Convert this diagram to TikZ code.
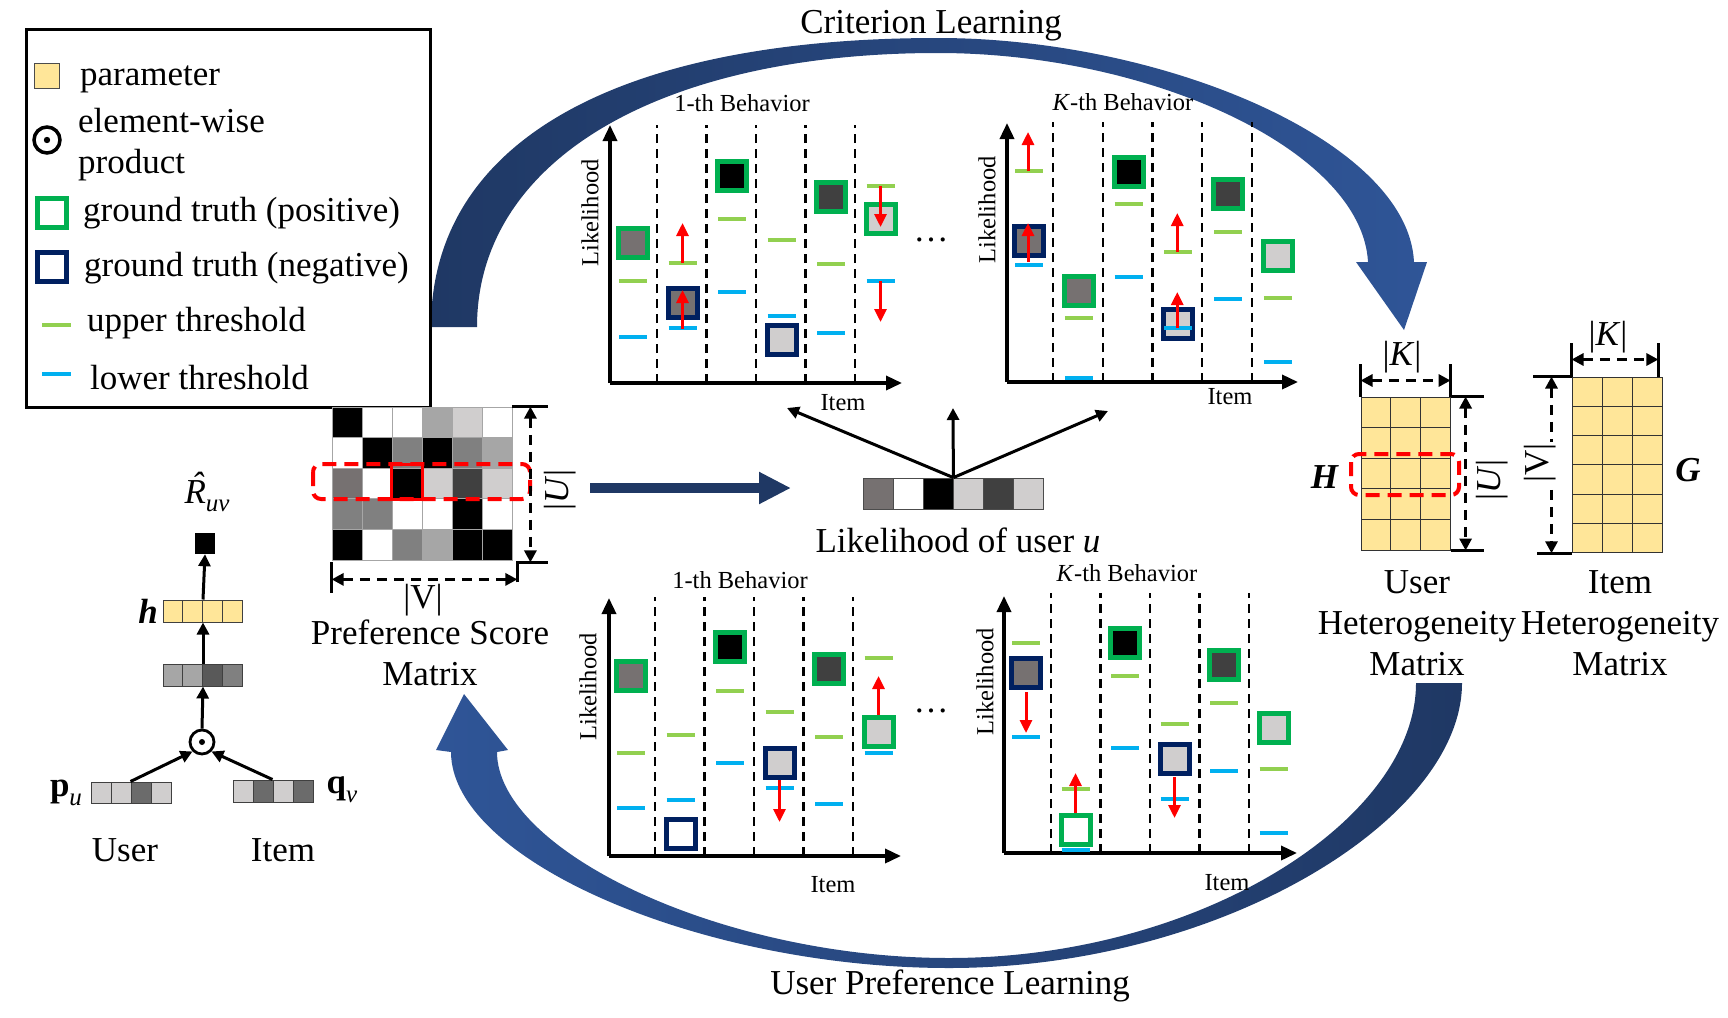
\documentclass[tikz,border=0pt]{standalone}
\usepackage{amsmath, amssymb}
\usepackage{fontspec}
\setmainfont{Liberation Serif}
\usetikzlibrary{arrows.meta, positioning, calc}
\usepackage{xcolor}

\definecolor{paramY}{HTML}{FFE699}
\definecolor{gtG}{HTML}{00B050}
\definecolor{gtN}{HTML}{002060}
\definecolor{upG}{HTML}{92D050}
\definecolor{lowB}{HTML}{00B0F0}
\definecolor{navyD}{HTML}{1F3864}
\definecolor{navyL}{HTML}{2F5597}
\definecolor{cK}{HTML}{000000}
\definecolor{cW}{HTML}{FFFFFF}
\definecolor{cA}{HTML}{A6A6A6}
\definecolor{cL}{HTML}{D0CECE}
\definecolor{cM}{HTML}{808080}
\definecolor{cD}{HTML}{404040}
\definecolor{cG}{HTML}{767171}
\definecolor{cS}{HTML}{595959}
\definecolor{cP}{HTML}{6B6B6B}

\begin{document}
\begin{tikzpicture}[
  x=1pt, y=-1pt,
  every node/.style={inner sep=0pt},
  big/.style    ={font=\fontsize{35}{41}\selectfont},
  small/.style  ={font=\fontsize{24.5}{28}\selectfont},
  pcell/.style  ={rectangle, draw=gray!70, line width=0.8pt,
                  minimum width=30pt, minimum height=30.6pt},
  vcell/.style  ={rectangle, draw=black!75, line width=1pt,
                  minimum width=19.75pt, minimum height=22pt},
  ycell/.style  ={rectangle, draw=black!80, line width=1pt, fill=paramY},
  gtbox/.style  ={rectangle, line width=5pt, minimum size=29pt},
  thr/.style    ={line width=4pt},
  sep/.style    ={line width=2.2pt, dash pattern=on 9pt off 6pt},
  axis/.style   ={-{Triangle[length=16pt,width=14pt]}, line width=3.5pt},
  redarr/.style ={-{Triangle[length=13pt,width=12pt]}, red, line width=3pt},
  arr/.style    ={-{Triangle[length=12pt,width=12pt]}, line width=3pt},
  dimarr/.style ={{Triangle[length=12pt,width=12pt]}-{Triangle[length=12pt,width=12pt]},
                  line width=3pt, dash pattern=on 10pt off 7pt},
  tick/.style   ={line width=3pt},
  seldash/.style={red, line width=4pt, dash pattern=on 14pt off 8pt, rounded corners=8pt},
  bigarr/.style ={-{Triangle[length=32pt,width=30pt]}, navyD, line width=10pt},
]
\useasboundingbox (0,0) rectangle (1728,1017);

% Learning loops
\shade[left color=navyD, right color=navyL]
  (431,327) .. controls (431,140) and (620,38) .. (938,38)
  .. controls (1160,38) and (1408,140) .. (1414,262)
  -- (1427,262) -- (1404,330) -- (1356,262) -- (1368,262)
  .. controls (1362,150) and (1150,53) .. (938,53)
  .. controls (660,53) and (477,160) .. (477,327) -- cycle;
\shade[left color=navyL, right color=navyD]
  (1462,683) .. controls (1462,820) and (1220,968) .. (949,968)
  .. controls (700,968) and (451,860) .. (451,752)
  -- (436,750) -- (464,694) -- (508,750) -- (497,752)
  .. controls (497,850) and (720,958) .. (949,958)
  .. controls (1200,958) and (1416,820) .. (1416,683) -- cycle;
\node[big] (crit) at (931,26) {Criterion Learning};
\node[big] (upl)  at (950,986) {User Preference Learning};

% Legend
\node[draw, line width=3pt, minimum width=404pt, minimum height=378pt] (legend) at (228,218) {};
\node[rectangle, draw=black!70, line width=0.8pt, fill=paramY, minimum size=25pt] (lgpar) at (46.5,75.5) {};
\node[big, anchor=west] (lgpartxt) at (80,79) {parameter};
\node[circle, draw, line width=3.5pt, minimum size=26pt] (lgdot) at (47,140) {};
\fill (lgdot) circle (3.2);
\node[big, anchor=west, align=left] (lgdottxt) at (78,145) {element-wise\\product};
\node[gtbox, draw=gtG] (lgpos) at (52,213) {};
\node[big, anchor=west] (lgpostxt) at (83,213) {ground truth (positive)};
\node[gtbox, draw=gtN] (lgneg) at (52,267) {};
\node[big, anchor=west] (lgnegtxt) at (84,268) {ground truth (negative)};
\draw[thr, upG] (42,325) -- (71,325);
\node[big, anchor=west] (lguptxt) at (87,323) {upper threshold};
\draw[thr, lowB] (42,374) -- (71,374);
\node[big, anchor=west] (lglowtxt) at (90,378) {lower threshold};

% Base model
\node[rectangle, fill=black, minimum width=20pt, minimum height=21pt] (rout) at (205,543.5) {};
\node[big] (rlab) at (207,492) {\textit{R\llap{\raisebox{0.2em}{ˆ}\kern0.08em}}\raisebox{-0.25em}{\fontsize{25}{28}\selectfont\textit{uv}}};
\foreach \col in {1,...,4}
  \node[vcell, fill=paramY] (hv\col) at ({163+19.75*(\col-0.5)},611) {};
\node[big, anchor=east] (hvlab) at (158,611) {\textbf{\textit{h}}};
\foreach \fc [count=\col] in {cA,cA,cS,cM}
  \node[vcell, fill=\fc] (gv\col) at ({163+19.75*(\col-0.5)},675) {};
\node[circle, draw, line width=2.8pt, minimum size=24pt] (odot) at (202,742) {};
\fill (odot) circle (3);
\foreach \fc [count=\col] in {cL,cL,cP,cL}
  \node[vcell, minimum width=20pt, minimum height=21pt, fill=\fc] (pu\col) at ({91+20*(\col-0.5)},792.5) {};
\foreach \fc [count=\col] in {cL,cP,cL,cP}
  \node[vcell, minimum width=20pt, minimum height=22pt, fill=\fc] (qv\col) at ({233+20*(\col-0.5)},791) {};
\node[big] (pulab) at (66,793) {\textbf{p}\raisebox{-0.25em}{\fontsize{25}{28}\selectfont\textit{u}}};
\node[big] (qvlab) at (342,790) {\textbf{q}\raisebox{-0.25em}{\fontsize{25}{28}\selectfont\textit{v}}};
\node[big] (ulab) at (125,850) {User};
\node[big] (ilab) at (283,850) {Item};
\draw[arr] (pu3.north west) -- (odot.south west);
\draw[arr] (qv3.north west) -- (odot.south east);
\draw[arr] (odot.north) -- (gv2.south east);
\draw[arr] (gv2.north east) -- (hv2.south east);
\draw[arr] (hv2.north east) -- (rout.south);

% Preference score matrix
\foreach \rowc [count=\rr] in {{cK,cW,cW,cA,cL,cW},{cW,cK,cM,cK,cM,cA},{cG,cW,cK,cL,cD,cL},{cM,cM,cW,cW,cK,cW},{cK,cW,cM,cA,cK,cK}}
  \foreach \fc [count=\col] in \rowc
    \node[pcell, fill=\fc] (pm-\rr-\col) at ({317+30*\col},{407+30.6*(\rr-0.5)}) {};
\coordinate (seltop) at (0,464);
\draw[seldash] (313,464) rectangle (530,499);
\draw[red, line width=3pt] (pm-3-3.west |- seltop) rectangle (pm-3-3.south east);
\draw[tick] (pm-1-6.north east) -- ++(36,0);
\draw[tick] ($(pm-5-6.south east)+(5,22)$) -- ++(0,-20) -- ++(31,0);
\draw[tick] ($(pm-5-1.south west)+(0,2)$) -- ++(0,31);
\draw[dimarr] ($(pm-1-6.north east)+(18,0)$) -- ($(pm-5-6.south east)+(18,2)$);
\draw[dimarr] ($(pm-5-1.south west)+(0,19)$) -- ($(pm-5-6.south east)+(5,19)$);
\node[big, rotate=90] (pmUlab) at (560,490) {|\textit{U}|};
\node[big] (pmVlab) at (423,600) {|V|};
\node[big, align=center] (pmlab) at (430,653) {Preference Score\\Matrix};

% To likelihood
\coordinate (bigA) at (590,488);
\coordinate (bigB) at (791,488);
\draw[bigarr] (bigA) -- (bigB);
\foreach \fc [count=\col] in {cG,cW,cK,cL,cD,cL}
  \node[pcell, draw=black!70, minimum height=31pt, fill=\fc] (lv\col) at ({848+30*\col},493.5) {};
\node[big] (lvlab) at (958,540) {Likelihood of user \textit{u}};
\coordinate (lvL) at (787,408);
\coordinate (lvM) at (953,408);
\coordinate (lvR) at (1108,411);
\draw[arr] (lv3.north east) -- (lvL);
\draw[arr] (lv3.north east) -- (lvM);
\draw[arr] (lv3.north east) -- (lvR);

% Top-left: 1-th behavior
\begin{scope}[shift={(610,383)}]
  \coordinate (tlO) at (0,0);
  \draw[axis] (tlO) -- (0,-258);
  \draw[axis] (tlO) -- (292,0);
  \foreach \k in {0,...,4} \draw[sep] ({47+49.5*\k},0) -- ({47+49.5*\k},-258);
  \foreach \col/\yy/\bc/\fc in {1/-140/gtG/cG, 2/-80/gtN/cG, 3/-207/gtG/cK, 4/-43/gtN/cL, 5/-186/gtG/cD, 6/-164/gtG/cL}
    \node[gtbox, draw=\bc, fill=\fc] (tl-sq\col) at ({23+49.5*(\col-1)},\yy) {};
  \foreach \col/\up/\lo in {1/-102/-46, 2/-120/-55, 3/-164/-91, 4/-143/-67, 5/-119/-50, 6/-197/-102} {
    \draw[thr, upG]  ({9+49.5*(\col-1)},\up) -- ++(28,0);
    \draw[thr, lowB] ({9+49.5*(\col-1)},\lo) -- ++(28,0);
  }
  \foreach \col/\ya/\yb in {2/-120/-160, 2/-54/-93, 6/-197/-156, 6/-102/-61}
    \draw[redarr] ({23+49.5*(\col-1)},\ya) -- ({23+49.5*(\col-1)},\yb);
  \node[small] (tl-title) at (132,-280) {1-th Behavior};
  \node[small, rotate=90] (tl-ylab) at (-20,-170) {Likelihood};
  \node[small] (tl-xlab) at (233,20) {Item};
\end{scope}
\node[big] (dotsT) at (931,240) {…};

% Top-right: K-th behavior
\begin{scope}[shift={(1007,382)}]
  \coordinate (trO) at (0,0);
  \draw[axis] (trO) -- (0,-259);
  \draw[axis] (trO) -- (291,0);
  \foreach \k in {0,...,4} \draw[sep] ({46+49.75*\k},0) -- ({46+49.75*\k},-260);
  \foreach \col/\yy/\bc/\fc in {1/-141/gtN/cG, 2/-91/gtG/cG, 3/-210/gtG/cK, 4/-58/gtN/cL, 5/-188/gtG/cD, 6/-126/gtG/cL}
    \node[gtbox, draw=\bc, fill=\fc] (tr-sq\col) at ({22+49.75*(\col-1)},\yy) {};
  \foreach \col/\up/\lo in {1/-211/-117, 2/-64/-4, 3/-178/-105, 4/-130/-54, 5/-150/-83, 6/-84/-20} {
    \draw[thr, upG]  ({8+49.75*(\col-1)},\up) -- ++(28,0);
    \draw[thr, lowB] ({8+49.75*(\col-1)},\lo) -- ++(28,0);
  }
  \foreach \col/\ya/\yb in {1/-211/-250, 1/-120/-159, 4/-130/-169, 4/-54/-90}
    \draw[redarr] ({21+49.75*(\col-1)},\ya) -- ({21+49.75*(\col-1)},\yb);
  \node[small] (tr-title) at (116,-280) {\textit{K}-th Behavior};
  \node[small, rotate=90] (tr-ylab) at (-20,-172) {Likelihood};
  \node[small] (tr-xlab) at (223,15) {Item};
\end{scope}

% Bottom-left: 1-th behavior
\begin{scope}[shift={(609,856)}]
  \coordinate (blO) at (0,0);
  \draw[axis] (blO) -- (0,-258);
  \draw[axis] (blO) -- (292,0);
  \foreach \k in {0,...,4} \draw[sep] ({46+49.5*\k},0) -- ({46+49.5*\k},-259);
  \foreach \col/\yy/\bc/\fc in {1/-180/gtG/cG, 2/-22/gtN/cW, 3/-209/gtG/cK, 4/-93/gtN/cL, 5/-187/gtG/cD, 6/-124/gtG/cL}
    \node[gtbox, draw=\bc, fill=\fc] (bl-sq\col) at ({22+49.5*(\col-1)},\yy) {};
  \foreach \col/\up/\lo in {1/-103/-48, 2/-121/-56, 3/-165/-93, 4/-144/-68, 5/-119/-52, 6/-198/-103} {
    \draw[thr, upG]  ({8+49.5*(\col-1)},\up) -- ++(28,0);
    \draw[thr, lowB] ({8+49.5*(\col-1)},\lo) -- ++(28,0);
  }
  \foreach \col/\ya/\yb in {4/-76/-34, 6/-141/-180}
    \draw[redarr] ({22+49.5*(\col-1)},\ya) -- ({22+49.5*(\col-1)},\yb);
  \node[small] (bl-title) at (131,-276) {1-th Behavior};
  \node[small, rotate=90] (bl-ylab) at (-21,-169) {Likelihood};
  \node[small] (bl-xlab) at (224,29) {Item};
\end{scope}
\node[big] (dotsB) at (931,711) {…};

% Bottom-right: K-th behavior
\begin{scope}[shift={(1004,853)}]
  \coordinate (brO) at (0,0);
  \draw[axis] (brO) -- (0,-257);
  \draw[axis] (brO) -- (293,0);
  \foreach \k in {0,...,4} \draw[sep] ({47+49.5*\k},0) -- ({47+49.5*\k},-260);
  \foreach \col/\yy/\bc/\fc in {1/-180/gtN/cG, 2/-23/gtG/cW, 3/-210/gtG/cK, 4/-94/gtN/cL, 5/-188/gtG/cD, 6/-125/gtG/cL}
    \node[gtbox, draw=\bc, fill=\fc] (br-sq\col) at ({22+49.5*(\col-1)},\yy) {};
  \foreach \col/\up/\lo in {1/-210/-116, 2/-64/-3, 3/-177/-105, 4/-129/-54, 5/-150/-82, 6/-84/-20} {
    \draw[thr, upG]  ({8+49.5*(\col-1)},\up) -- ++(28,0);
    \draw[thr, lowB] ({8+49.5*(\col-1)},\lo) -- ++(28,0);
  }
  \foreach \col/\ya/\yb in {1/-161/-120, 2/-40/-80, 4/-76/-35}
    \draw[redarr] ({22+49.5*(\col-1)},\ya) -- ({22+49.5*(\col-1)},\yb);
  \node[small] (br-title) at (123,-280) {\textit{K}-th Behavior};
  \node[small, rotate=90] (br-ylab) at (-19,-171) {Likelihood};
  \node[small] (br-xlab) at (223,30) {Item};
\end{scope}

% User heterogeneity matrix H
\foreach \rr in {1,...,5}
  \foreach \col in {1,...,3}
    \node[ycell, minimum width=29.7pt, minimum height=30.6pt] (hm-\rr-\col) at ({1361+29.7*(\col-0.5)},{397+30.6*(\rr-0.5)}) {};
\draw[seldash] (1351,454) rectangle (1459,495);
\draw[tick] (hm-1-1.north west) -- ++(0,-33);
\draw[tick] (hm-1-3.north east) -- ++(0,-33);
\draw[dimarr] ($(hm-1-1.north west)+(0,-16)$) -- ($(hm-1-3.north east)+(0,-16)$);
\node[big] (hK) at (1402,357) {|\textit{K}|};
\draw[tick] (hm-1-3.north east) -- ++(33,0);
\draw[tick] (hm-5-3.south east) -- ++(33,0);
\draw[dimarr] ($(hm-1-3.north east)+(15,0)$) -- ($(hm-5-3.south east)+(15,0)$);
\node[big, rotate=90] (hU) at (1492,480) {|\textit{U}|};
\node[big] (hH) at (1325,477) {\textbf{\textit{H}}};
\node[big, align=center] (hlab) at (1417,623) {User\\Heterogeneity\\Matrix};

% Item heterogeneity matrix G
\foreach \rr in {1,...,6}
  \foreach \col in {1,...,3}
    \node[ycell, minimum width=30.3pt, minimum height=29.3pt] (gm-\rr-\col) at ({1572+30.3*(\col-0.5)},{377+29.3*(\rr-0.5)}) {};
\draw[tick] (gm-1-1.north west) -- ++(0,-34);
\draw[tick] ($(gm-1-3.north east)+(-5,0)$) -- ++(0,-34);
\draw[dimarr] ($(gm-1-1.north west)+(0,-17)$) -- ($(gm-1-3.north east)+(-5,-17)$);
\node[big] (gK) at (1608,337) {|\textit{K}|};
\draw[tick] (gm-1-1.north west) -- ++(-39,0);
\draw[tick] (gm-6-1.south west) -- ++(-35,0);
\draw[dimarr] ($(gm-1-1.north west)+(-20,0)$) -- ($(gm-6-1.south west)+(-20,0)$);
\node[big, rotate=90, fill=white, inner sep=1pt] (gV) at (1540,463) {|V|};
\node[big] (gG) at (1688,470) {\textbf{\textit{G}}};
\node[big, align=center] (glab) at (1620,623) {Item\\Heterogeneity\\Matrix};

\end{tikzpicture}
\end{document}
